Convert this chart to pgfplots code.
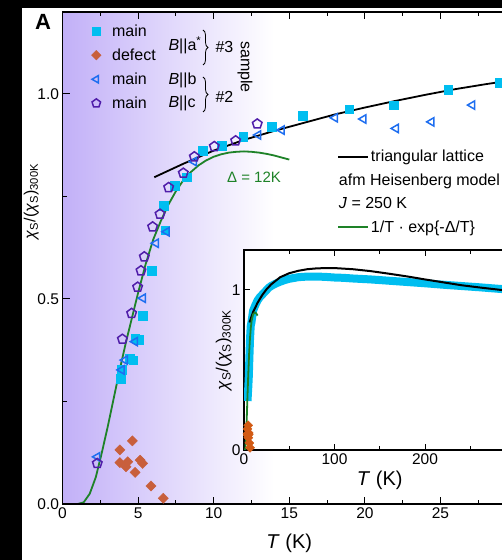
\documentclass[border=0pt]{standalone}
\usepackage{fontspec}
\setmainfont{Liberation Sans}
\usepackage{pgfplots}
\pgfplotsset{compat=1.18}
\usetikzlibrary{plotmarks,decorations.pathreplacing}

\definecolor{cyanM}{RGB}{0,190,240}
\definecolor{blueT}{RGB}{30,110,240}
\definecolor{purpP}{RGB}{80,30,170}
\definecolor{brownD}{RGB}{200,95,60}
\definecolor{orangeI}{RGB}{210,90,20}
\definecolor{greenL}{RGB}{30,130,40}
\definecolor{lav}{RGB}{194,176,248}

\newcommand{\fs}[1]{\fontsize{#1}{#1}\selectfont}

\begin{document}
\begin{tikzpicture}
% main panel
\begin{axis}[
  at={(62.5pt,56pt)}, anchor=south west, scale only axis,
  width=453.6pt, height=492pt,
  xmin=0, xmax=30, ymin=0, ymax=1.2,
  xtick={0,5,...,25}, minor xtick={2.5,7.5,...,27.5},
  ytick={0,0.5,1}, minor ytick={0.25,0.75},
  yticklabel style={/pgf/number format/.cd,fixed,fixed zerofill,precision=1},
  /pgf/number format/assume math mode=true,
  tick align=inside, major tick length=7pt, minor tick length=4pt,
  tick style={black, line width=1pt},
  axis line style={line width=1.2pt},
  ticklabel style={font=\fs{15.5}},
  xlabel={\textit{T} (K)},
  xlabel style={font=\fs{20}, at={(axis description cs:0.5,-0.079)}, anchor=center},
  ylabel={\textit{χ}\textsubscript{S}/(\textit{χ}\textsubscript{S})\textsubscript{300K}},
  ylabel style={font=\fs{16}, at={(axis description cs:-0.069,0.615)}, anchor=center},
  axis on top,
  legend style={at={(axis description cs:0.0635,0.979)}, anchor=north west,
    draw=none, fill=none, inner sep=0pt, row sep=7pt, font=\fs{16}},
  legend cell align=left,
]
\fill[left color=lav, right color=white] (axis cs:0,0) rectangle (axis cs:14,1.2);

\addlegendimage{only marks, mark=square*, color=cyanM, mark size=4pt}
\addlegendentry{\hspace{9pt}main}
\addlegendimage{only marks, mark=square*, mark options={rotate=45}, color=brownD, mark size=3.4pt}
\addlegendentry{\hspace{9pt}defect}
\addlegendimage{only marks, mark=triangle, mark options={rotate=90, line width=1.5pt}, color=blueT, mark size=4.3pt}
\addlegendentry{\hspace{9pt}main}
\addlegendimage{only marks, mark=pentagon, mark options={line width=1.5pt}, color=purpP, mark size=4.5pt}
\addlegendentry{\hspace{9pt}main}

% sample #3, B||a*, main
\addplot[only marks, mark=square*, color=cyanM, mark size=4.3pt, forget plot] coordinates {
 (3.85,0.306) (3.91,0.327) (4.46,0.355) (4.68,0.351) (4.80,0.404) (5.02,0.400)
 (5.30,0.459) (5.90,0.569) (6.78,0.668) (6.71,0.727) (7.44,0.776) (8.21,0.797)
 (9.27,0.862) (10.53,0.874) (11.96,0.896) (13.83,0.920) (15.89,0.947)
 (18.97,0.963) (21.9,0.973) (25.5,1.011) (28.9,1.028)
};
% sample #3, defect
\addplot[only marks, mark=square*, mark options={rotate=45}, color=brownD, mark size=3.6pt, forget plot] coordinates {
 (3.80,0.132) (4.62,0.154) (3.80,0.101) (4.20,0.091) (4.31,0.103) (4.80,0.077)
 (5.13,0.107) (5.30,0.099) (5.85,0.044) (6.67,0.014)
};
% sample #2, B||b
\addplot[only marks, mark=triangle, mark options={rotate=90, line width=1.5pt}, color=blueT, mark size=4.8pt, forget plot] coordinates {
 (2.30,0.115) (3.91,0.327) (4.13,0.351) (4.80,0.396) (5.32,0.502) (6.18,0.636)
 (6.89,0.664) (8.70,0.835) (12.95,0.900) (14.5,0.912) (18.02,0.942) (19.9,0.939)
 (22.05,0.916) (24.4,0.932) (27.1,0.973)
};
% sample #2, B||c
\addplot[only marks, mark=pentagon, mark options={line width=1.5pt}, color=purpP, mark size=5pt, forget plot] coordinates {
 (2.30,0.099) (3.96,0.402) (4.57,0.465) (4.97,0.529) (5.19,0.569) (5.41,0.603)
 (5.96,0.676) (6.45,0.707) (7.02,0.772) (7.99,0.807) (8.72,0.847) (10.04,0.872)
 (11.45,0.886) (12.88,0.927)
};
% triangular lattice model
\addplot[black, line width=1.8pt, forget plot] coordinates {
 (6.07,0.797) (8,0.830) (10,0.862) (12,0.888) (14,0.910) (16,0.930) (18,0.950)
 (20,0.967) (22,0.983) (24,0.998) (26,1.012) (28,1.024) (30,1.035)
};
% gap fit
\addplot[greenL, line width=1.8pt, forget plot] coordinates {
 (0,0) (1.0,0) (1.4,0.004) (1.8,0.025) (2.2,0.065) (2.6,0.125) (3.0,0.19)
 (3.4,0.26) (3.8,0.33) (4.2,0.395) (4.6,0.455) (5.0,0.515) (5.5,0.585)
 (6.0,0.645) (6.5,0.69) (7.0,0.73) (7.5,0.763) (8.0,0.79) (8.5,0.81) (9.0,0.826)
 (9.5,0.838) (10,0.847) (10.5,0.853) (11,0.857) (11.5,0.859) (12,0.860)
 (12.5,0.859) (13,0.857) (13.5,0.854) (14,0.850) (14.5,0.845) (15,0.840)
};
\end{axis}

% inset
\begin{axis}[
  at={(244pt,110pt)}, anchor=south west, scale only axis,
  width=271.5pt, height=200pt,
  xmin=0, xmax=300, ymin=0, ymax=1.25,
  xtick={0,100,200}, minor xtick={50,150,250},
  ytick={0,1}, minor ytick={0.5},
  /pgf/number format/assume math mode=true,
  axis background/.style={fill=white},
  tick align=inside, major tick length=6pt, minor tick length=4pt,
  tick style={black, line width=1pt},
  axis line style={line width=1.2pt},
  ticklabel style={font=\fs{15.5}},
  xlabel={\textit{T} (K)},
  xlabel style={font=\fs{20}, at={(axis description cs:0.5,-0.15)}, anchor=center},
  ylabel={\textit{χ}\textsubscript{S}/(\textit{χ}\textsubscript{S})\textsubscript{300K}},
  ylabel style={font=\fs{17}, at={(axis description cs:-0.075,0.5)}, anchor=center},
  legend style={at={(axis description cs:0.3425,1.51)}, anchor=north west,
    draw=none, fill=none, inner sep=0pt, row sep=6.5pt, font=\fs{16}},
  legend cell align=left,
  legend image code/.code={\draw[#1] (0pt,0pt) -- (30pt,0pt);},
]
\addlegendimage{black, line width=1.8pt}
\addlegendentry{triangular lattice}
\addlegendimage{empty legend}
\addlegendentry{\hspace{-32pt}afm Heisenberg model}
\addlegendimage{empty legend}
\addlegendentry{\hspace{-32pt}\textit{J} = 250 K}
\addlegendimage{greenL, line width=1.8pt}
\addlegendentry{1/T · exp\{-Δ/T\}}

\addplot[cyanM, line width=8pt, line join=round, forget plot] coordinates {
 (3.85,0.306) (4.8,0.40) (5.3,0.459) (5.9,0.569) (6.7,0.70) (7.44,0.776)
 (8.21,0.797) (10,0.87) (12.5,0.905) (15,0.935) (17.5,0.955) (20,0.97)
 (22.5,0.985) (25,1.0) (27.5,1.015) (30,1.025) (35,1.04) (40,1.052) (45,1.062)
 (50,1.07) (60,1.08) (70,1.084) (80,1.084) (90,1.082) (100,1.078) (110,1.076)
 (120,1.072) (140,1.066) (160,1.058) (180,1.05) (200,1.042) (220,1.033)
 (240,1.025) (260,1.017) (280,1.008) (300,1.0)
};
\addplot[only marks, mark=square*, mark options={rotate=45}, color=orangeI, mark size=3.2pt, forget plot] coordinates {
 (3.80,0.132) (4.62,0.154) (3.80,0.101) (4.20,0.091) (4.31,0.103) (4.80,0.077)
 (5.13,0.107) (5.30,0.099) (5.85,0.044) (6.67,0.014)
};
\addplot[black, line width=2pt, forget plot] coordinates {
 (6.07,0.797) (10,0.862) (15,0.92) (20,0.967) (25,1.005) (30,1.035) (40,1.08)
 (50,1.105) (60,1.12) (70,1.13) (80,1.135) (90,1.137) (100,1.137) (120,1.13)
 (140,1.118) (160,1.102) (180,1.085) (200,1.066) (220,1.048) (240,1.03)
 (260,1.016) (280,1.003) (300,0.99)
};
\addplot[greenL, line width=1.8pt, forget plot] coordinates {
 (0,0) (1.4,0.004) (2.2,0.065) (3.0,0.19) (3.8,0.33) (4.6,0.455) (5.5,0.585)
 (6.5,0.69) (7.5,0.763) (8.5,0.81) (10,0.847) (12,0.860) (13.5,0.854) (15,0.840)
};
\end{axis}

% annotations
\node[font=\fs{16}, anchor=west] at (165pt,515pt) {\textit{B}||a\textsuperscript{*}};
\node[font=\fs{16}, anchor=west] at (165pt,480pt) {\textit{B}||b};
\node[font=\fs{16}, anchor=west] at (165pt,457pt) {\textit{B}||c};
\draw[decorate, decoration={brace, amplitude=5pt}, line width=0.8pt] (203pt,530pt) -- (203pt,495pt);
\draw[decorate, decoration={brace, amplitude=5pt}, line width=0.8pt] (203pt,483pt) -- (203pt,448pt);
\node[font=\fs{16}, anchor=west] at (212pt,513pt) {\#3};
\node[font=\fs{16}, anchor=west] at (212pt,463pt) {\#2};
\node[font=\fs{16}, rotate=-90] at (245pt,493pt) {sample};
\node[font=\fs{15}, text=greenL] at (254pt,383pt) {Δ = 12K};
\node[font=\bfseries\fs{22}] at (43pt,538.5pt) {A};

\fill[black] (0pt,0pt) rectangle (22pt,560pt);
\fill[black] (0pt,552pt) rectangle (502pt,560pt);
\pgfresetboundingbox
\useasboundingbox (0pt,0pt) rectangle (502pt,560pt);
\end{tikzpicture}
\end{document}
